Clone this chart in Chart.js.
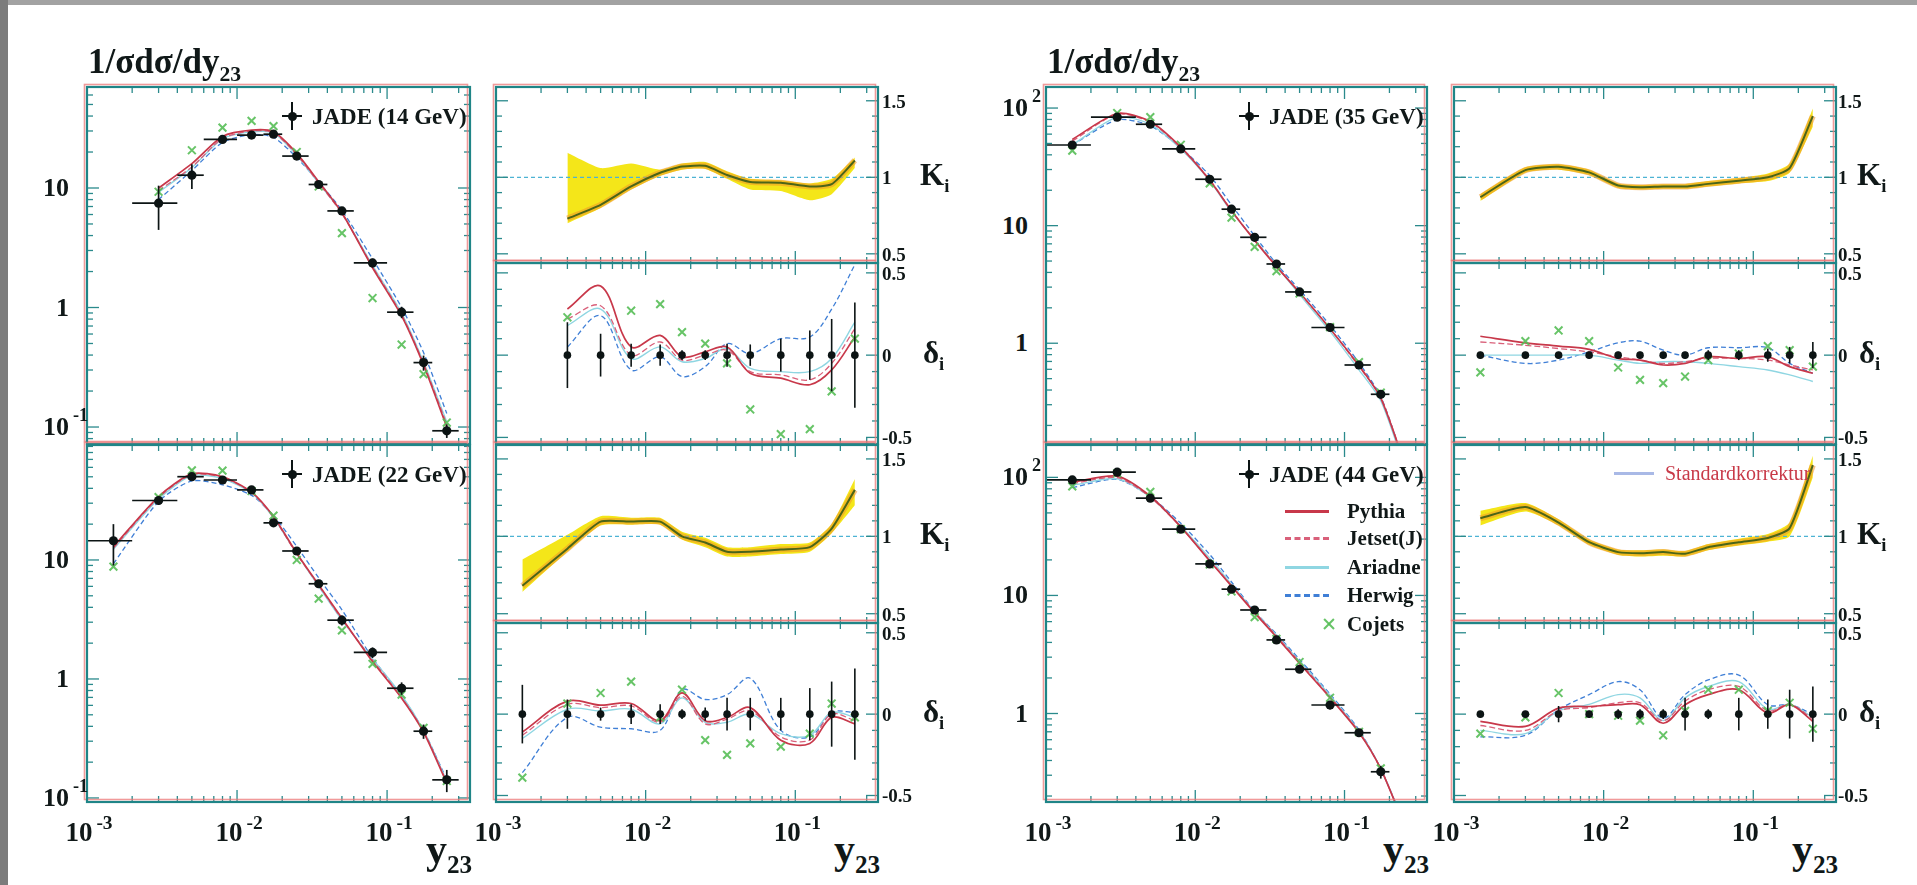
<!DOCTYPE html>
<html>
<head>
<meta charset="utf-8">
<title>JADE y23 distributions</title>
<script src="https://cdn.jsdelivr.net/npm/chart.js@4.4.1/dist/chart.umd.min.js"></script>
<style>
html,body{margin:0;padding:0;background:#fff;}
#page{position:relative;width:1917px;height:885px;overflow:hidden;background:#fff;font-family:"Liberation Serif","Times New Roman","DejaVu Serif",serif;color:#101818;}
#page canvas{position:absolute;}
.t{position:absolute;white-space:nowrap;line-height:1;font-weight:bold;}
.yl{font-size:26px;transform:translate(-100%,-50%);}
.yl .ex{position:absolute;left:100%;top:-0.45em;font-size:0.7em;margin-left:4px;}
.xl{font-size:27px;transform:translate(-50%,-50%);}
.xl .ex{font-size:0.72em;position:relative;top:-0.6em;margin-left:4px;}
.rl{font-size:19px;transform:translateY(-50%);}
.ttl{font-weight:bold;font-size:35px;}
.ttl sub{font-size:0.62em;vertical-align:-0.35em;}
.ax{font-size:42px;}
.ax sub{font-size:0.6em;vertical-align:-0.4em;}
.lg{font-size:23px;transform:translateY(-50%);}
.lg2{font-size:21px;transform:translateY(-50%);}
.sk{font-size:20px;font-weight:normal;color:#c83a48;transform:translateY(-50%);}
.box{position:absolute;}
</style>
</head>
<body>
<div id="page"></div>
<script>
// ---------------- data ----------------
const y23   = [0.0015, 0.003, 0.005, 0.008, 0.0125, 0.0175, 0.025, 0.035, 0.05, 0.08, 0.125, 0.175, 0.25];
const binLo = [0.001, 0.002, 0.004, 0.006, 0.01, 0.015, 0.02, 0.03, 0.04, 0.06, 0.1, 0.15, 0.2];
const binHi = [0.002, 0.004, 0.006, 0.01, 0.015, 0.02, 0.03, 0.04, 0.06, 0.1, 0.15, 0.2, 0.3];

const xTicks = [0.001, 0.01, 0.1];
const xTickText = ['10^-3', '10^-2', '10^-1'];
const yTicks14 = [0.1, 1, 10];   const yTickText14 = ['10^-1', '1', '10'];
const yTicks22 = [0.1, 1, 10];   const yTickText22 = ['10^-1', '1', '10'];
const yTicks35 = [1, 10, 100];   const yTickText35 = ['1', '10', '10^2'];
const yTicks44 = [1, 10, 100];   const yTickText44 = ['1', '10', '10^2'];
const kTicks = [0.5, 1, 1.5];    const kTickText = ['0.5', '1', '1.5'];
const dTicks = [-0.5, 0, 0.5];   const dTickText = ['-0.5', '0', '0.5'];
const kRef = 1;

// 14 GeV
const jade14    = [null, 7.46, 12.8, 25.5, 27.7, 28.2, 18.5, 10.7, 6.43, 2.36, 0.914, 0.346, 0.093];
const jade14Err = [null, 3.0, 3.0, 1.2, 1.2, 1.2, 0.8, 0.6, 0.4, 0.2, 0.1, 0.05, 0.012];
const pythia14  = [null, 10.0, 16.0, 27.0, 30.5, 29.5, 19.5, 11.3, 6.2, 2.15, 0.85, 0.33, 0.10];
const jetset14  = [null, 9.5, 15.0, 26.0, 30.0, 29.0, 19.0, 11.0, 6.1, 2.2, 0.87, 0.34, 0.105];
const ariadne14 = [null, 9.2, 14.8, 25.8, 29.5, 28.8, 18.8, 11.0, 6.2, 2.25, 0.9, 0.35, 0.11];
const herwig14  = [null, 8.0, 14.0, 24.0, 28.0, 26.5, 18.0, 11.2, 6.5, 2.55, 1.0, 0.42, 0.13];
const cojets14  = [null, 9.3, 20.7, 32.0, 36.4, 32.9, 20.0, 10.3, 4.19, 1.2, 0.49, 0.277, 0.109];
const k14   = [null, 0.73, 0.82, 0.94, 1.03, 1.07, 1.075, 1.015, 0.97, 0.965, 0.94, 0.955, 1.11];
const k14Hi = [null, 1.16, 1.06, 1.09, 1.05, 1.09, 1.10, 1.04, 0.99, 0.98, 0.96, 0.99, 1.13];
const k14Lo = [null, 0.70, 0.80, 0.92, 1.01, 1.05, 1.055, 0.99, 0.92, 0.91, 0.85, 0.89, 1.06];
const d14Jade    = [null, 0, 0, 0, 0, 0, 0, 0, 0, 0, 0, 0, 0];
const d14Err     = [null, 0.2, 0.13, 0.07, 0.065, 0.03, 0.03, 0.07, 0.065, 0.1, 0.15, 0.22, 0.32];
const d14Pythia  = [null, 0.28, 0.42, 0.05, 0.12, -0.01, 0.02, 0.05, -0.11, -0.14, -0.18, -0.09, 0.11];
const d14Jetset  = [null, 0.22, 0.30, 0.0, 0.08, -0.03, 0.0, 0.03, -0.10, -0.12, -0.15, -0.05, 0.16];
const d14Ariadne = [null, 0.18, 0.28, -0.02, 0.05, -0.04, -0.02, 0.04, -0.08, -0.10, -0.10, -0.02, 0.20];
const d14Herwig  = [null, 0.05, 0.24, -0.09, -0.01, -0.13, -0.07, 0.07, 0.01, 0.10, 0.11, 0.28, 0.55];
const d14Cojets  = [null, 0.23, null, 0.27, 0.31, 0.14, 0.07, -0.05, -0.33, -0.48, -0.45, -0.22, 0.10];

// 22 GeV
const jade22    = [14.5, 31.6, 50.1, 47.0, 38.8, 20.5, 11.9, 6.31, 3.12, 1.67, 0.836, 0.364, 0.142];
const jade22Err = [5.5, 2.5, 2.0, 2.0, 1.5, 1.0, 0.6, 0.5, 0.3, 0.17, 0.1, 0.05, 0.03];
const pythia22  = [12.9, 34.1, 52.9, 50.1, 37.2, 23.2, 11.4, 6.18, 3.24, 1.40, 0.69, 0.357, 0.133];
const jetset22  = [12.6, 33.5, 52.1, 49.4, 36.9, 22.8, 11.2, 6.12, 3.18, 1.44, 0.70, 0.364, 0.136];
const ariadne22 = [12.3, 32.5, 51.1, 48.4, 36.5, 22.6, 11.3, 6.0, 3.12, 1.47, 0.73, 0.368, 0.139];
const herwig22  = [9.3, 31.0, 46.1, 42.8, 34.9, 23.6, 13.0, 7.07, 3.81, 1.50, 0.72, 0.368, 0.143];
const cojets22  = [8.8, 33.7, 56.6, 56.4, 38.0, 23.6, 10.0, 4.73, 2.56, 1.34, 0.74, 0.388, 0.139];
const k22   = [0.68, 0.92, 1.095, 1.095, 1.095, 1.0, 0.96, 0.9, 0.9, 0.915, 0.93, 1.05, 1.30];
const k22Hi = [0.85, 1.01, 1.13, 1.12, 1.12, 1.03, 0.99, 0.93, 0.93, 0.95, 0.96, 1.08, 1.37];
const k22Lo = [0.64, 0.90, 1.07, 1.075, 1.075, 0.98, 0.93, 0.87, 0.87, 0.885, 0.90, 1.02, 1.20];
const d22Jade    = [0, 0, 0, 0, 0, 0, 0, 0, 0, 0, 0, 0, 0];
const d22Err     = [0.18, 0.09, 0.04, 0.06, 0.06, 0.03, 0.04, 0.1, 0.1, 0.1, 0.16, 0.2, 0.28];
const d22Pythia  = [-0.11, 0.08, 0.055, 0.065, -0.04, 0.13, -0.04, -0.02, 0.04, -0.16, -0.18, -0.02, -0.06];
const d22Jetset  = [-0.13, 0.06, 0.04, 0.05, -0.05, 0.11, -0.06, -0.03, 0.02, -0.14, -0.16, 0.0, -0.04];
const d22Ariadne = [-0.15, 0.03, 0.02, 0.03, -0.06, 0.10, -0.05, -0.05, 0.0, -0.12, -0.13, 0.01, -0.02];
const d22Herwig  = [-0.36, -0.02, -0.08, -0.09, -0.10, 0.15, 0.09, 0.12, 0.22, -0.10, -0.14, 0.01, 0.01];
const d22Cojets  = [-0.39, 0.065, 0.13, 0.20, -0.02, 0.15, -0.16, -0.25, -0.18, -0.20, -0.12, 0.065, -0.02];

// 35 GeV
const jade35    = [48.5, 83.6, 72.8, 44.9, 24.8, 13.8, 7.96, 4.72, 2.73, 1.36, 0.653, 0.368, 0.11];
const jade35Err = [2.0, 3.0, 2.5, 1.5, 0.8, 0.5, 0.3, 0.2, 0.12, 0.06, 0.03, 0.02, 0.01];
const pythia35  = [54.1, 89.9, 76.8, 46.5, 24.3, 13.4, 7.48, 4.48, 2.70, 1.33, 0.646, 0.342, 0.098];
const jetset35  = [52.4, 88.6, 75.7, 45.8, 24.6, 13.4, 7.56, 4.53, 2.68, 1.33, 0.633, 0.346, 0.10];
const ariadne35 = [48.5, 83.6, 72.8, 44.9, 24.1, 13.1, 7.64, 4.53, 2.59, 1.26, 0.594, 0.324, 0.092];
const herwig35  = [48.5, 79.4, 70.6, 45.8, 26.7, 15.0, 8.2, 4.72, 2.85, 1.42, 0.682, 0.35, 0.098];
const cojets35  = [43.4, 90.7, 83.7, 48.7, 22.9, 11.7, 6.6, 4.1, 2.65, 1.37, 0.69, 0.38, 0.102];
const k35   = [0.87, 1.047, 1.069, 1.032, 0.946, 0.935, 0.94, 0.94, 0.957, 0.978, 1.0, 1.06, 1.40];
const k35Hi = [0.89, 1.065, 1.085, 1.05, 0.96, 0.95, 0.955, 0.955, 0.975, 0.995, 1.025, 1.09, 1.45];
const k35Lo = [0.845, 1.03, 1.05, 1.015, 0.93, 0.92, 0.925, 0.925, 0.94, 0.96, 0.975, 1.03, 1.33];
const d35Jade    = [0, 0, 0, 0, 0, 0, 0, 0, 0, 0, 0, 0, 0];
const d35Err     = [0.02, 0.02, 0.02, 0.02, 0.02, 0.02, 0.02, 0.02, 0.03, 0.03, 0.04, 0.05, 0.08];
const d35Pythia  = [0.115, 0.075, 0.055, 0.035, -0.02, -0.03, -0.06, -0.05, -0.01, -0.02, -0.01, -0.07, -0.11];
const d35Jetset  = [0.08, 0.06, 0.04, 0.02, -0.01, -0.03, -0.05, -0.04, -0.02, -0.02, -0.03, -0.06, -0.09];
const d35Ariadne = [0.0, 0.0, 0.0, 0.0, -0.03, -0.05, -0.04, -0.04, -0.05, -0.07, -0.09, -0.12, -0.16];
const d35Herwig  = [0.0, -0.05, -0.03, 0.02, 0.075, 0.085, 0.03, 0.0, 0.045, 0.045, 0.045, -0.05, -0.11];
const d35Cojets  = [-0.105, 0.085, 0.15, 0.085, -0.075, -0.15, -0.17, -0.13, -0.03, 0.01, 0.055, 0.03, -0.07];

// 44 GeV
const jade44    = [95.2, 110.6, 66.7, 36.4, 18.5, 11.3, 7.53, 4.2, 2.37, 1.18, 0.687, 0.321, 0.12];
const jade44Err = [3.0, 4.0, 3.0, 1.5, 0.8, 0.5, 0.35, 0.3, 0.12, 0.1, 0.05, 0.04, 0.02];
const pythia44  = [90.9, 102.3, 69.2, 38.1, 19.6, 12.0, 7.11, 4.44, 2.65, 1.36, 0.691, 0.34, 0.115];
const jetset44  = [88.5, 99.5, 68.0, 37.9, 19.8, 12.1, 7.23, 4.54, 2.73, 1.38, 0.70, 0.34, 0.116];
const ariadne44 = [85.7, 97.3, 68.0, 38.6, 20.7, 12.4, 7.23, 4.62, 2.77, 1.42, 0.708, 0.34, 0.118];
const herwig44  = [81.9, 96.2, 68.5, 40.8, 22.2, 13.0, 7.34, 4.70, 2.87, 1.46, 0.727, 0.34, 0.12];
const cojets44  = [83.8, 108.4, 75.4, 36.4, 18.3, 10.8, 6.55, 4.28, 2.73, 1.36, 0.70, 0.343, 0.109];
const k44   = [1.117, 1.189, 1.089, 0.962, 0.898, 0.891, 0.898, 0.887, 0.93, 0.962, 0.989, 1.053, 1.46];
const k44Hi = [1.165, 1.215, 1.11, 0.98, 0.915, 0.91, 0.915, 0.905, 0.95, 0.985, 1.015, 1.09, 1.52];
const k44Lo = [1.07, 1.16, 1.07, 0.945, 0.88, 0.87, 0.875, 0.87, 0.91, 0.94, 0.965, 1.0, 1.38];
const d44Jade    = [0, 0, 0, 0, 0, 0, 0, 0, 0, 0, 0, 0, 0];
const d44Err     = [0.02, 0.02, 0.05, 0.02, 0.03, 0.03, 0.03, 0.1, 0.03, 0.1, 0.09, 0.15, 0.17];
const d44Pythia  = [-0.045, -0.075, 0.037, 0.047, 0.058, 0.058, -0.056, 0.058, 0.12, 0.15, 0.006, 0.058, -0.045];
const d44Jetset  = [-0.07, -0.1, 0.02, 0.04, 0.07, 0.07, -0.04, 0.08, 0.15, 0.17, 0.02, 0.06, -0.03];
const d44Ariadne = [-0.1, -0.12, 0.02, 0.06, 0.12, 0.1, -0.04, 0.1, 0.17, 0.2, 0.03, 0.06, -0.02];
const d44Herwig  = [-0.14, -0.13, 0.027, 0.12, 0.2, 0.15, -0.025, 0.12, 0.21, 0.24, 0.058, 0.058, 0.0];
const d44Cojets  = [-0.12, -0.02, 0.13, 0.0, -0.01, -0.04, -0.13, 0.02, 0.15, 0.15, 0.02, 0.07, -0.09];

const legendNames = ['Pythia', 'Jetset(J)', 'Ariadne', 'Herwig', 'Cojets'];

// ---------------- drawing ----------------
const XMIN = 0.001, XMAX = 0.357;
const P = 14;
const page = document.getElementById('page');

const COL = {
  pythia: '#c8384a', jetset: '#d9607a', ariadne: '#8fd6e2', herwig: '#3f7fd6',
  cojets: 'rgba(86,190,86,0.9)', jade: '#0c1414', frame: '#1f8587'
};

function pts(ys) {
  const out = [];
  ys.forEach((v, i) => { if (v !== null && v !== undefined) out.push({ x: y23[i], y: v }); });
  return out;
}
function lineDS(ys, color, dash, width, tension) {
  return { data: pts(ys), showLine: true, borderColor: color, borderDash: dash, borderWidth: width,
           pointRadius: 0, pointHoverRadius: 0, tension: tension, fill: false, clip: 0 };
}
function jadeDS(ys, r) {
  return { data: pts(ys), showLine: false, pointRadius: r, pointHoverRadius: r,
           pointBackgroundColor: COL.jade, pointBorderColor: COL.jade, pointBorderWidth: 0, clip: 0 };
}
function cojDS(ys) {
  return { data: pts(ys), showLine: false, pointStyle: 'crossRot', pointRadius: 5.5, pointHoverRadius: 5.5,
           pointBorderColor: COL.cojets, pointBorderWidth: 2, clip: 0 };
}

const framePlugin = {
  id: 'frame',
  afterDraw(chart) {
    const { ctx, chartArea: a, scales } = chart;
    const xs = scales.x, ys = scales.y;
    ctx.save();
    ctx.strokeStyle = '#2a8a8c';
    ctx.lineWidth = 1.3;
    const seg = (x1, y1, x2, y2) => { ctx.beginPath(); ctx.moveTo(x1, y1); ctx.lineTo(x2, y2); ctx.stroke(); };
    for (let e = -3; e <= 0; e++) {
      for (let m = 1; m <= 9; m++) {
        const v = m * Math.pow(10, e);
        if (v < xs.min * 0.999 || v > xs.max) continue;
        const px = xs.getPixelForValue(v);
        const L = m === 1 ? 12 : 6;
        seg(px, a.bottom, px, a.bottom - L);
        seg(px, a.top, px, a.top + L);
      }
    }
    if (ys.type === 'logarithmic') {
      for (let e = -2; e <= 3; e++) for (let m = 1; m <= 9; m++) {
        const v = m * Math.pow(10, e);
        if (v < ys.min || v > ys.max) continue;
        const py = ys.getPixelForValue(v);
        const L = m === 1 ? 12 : 6;
        seg(a.left, py, a.left + L, py);
        seg(a.right, py, a.right - L, py);
      }
    } else {
      const start = Math.ceil(ys.min * 10 - 1e-6), end = Math.floor(ys.max * 10 + 1e-6);
      for (let k = start; k <= end; k++) {
        const py = ys.getPixelForValue(k / 10);
        const L = (k % 5 === 0) ? 12 : 6;
        seg(a.left, py, a.left + L, py);
        seg(a.right, py, a.right - L, py);
      }
    }
    ctx.lineWidth = 1.6;
    ctx.strokeStyle = 'rgba(236,120,120,0.75)';
    ctx.strokeRect(a.left - 2.5, a.top - 2.5, a.width, a.height);
    ctx.lineWidth = 2.2;
    ctx.strokeStyle = COL.frame;
    ctx.strokeRect(a.left, a.top, a.width, a.height);
    ctx.restore();
  }
};

function errPlugin(sets) {
  return {
    id: 'errbars',
    afterDatasetsDraw(chart) {
      const { ctx, chartArea: a, scales: { x, y } } = chart;
      ctx.save();
      ctx.beginPath(); ctx.rect(a.left, a.top, a.width, a.height); ctx.clip();
      sets.forEach(s => {
        ctx.strokeStyle = s.color; ctx.lineWidth = s.width;
        s.vals.forEach((v, i) => {
          if (v === null || v === undefined) return;
          const px = x.getPixelForValue(y23[i]);
          const py = y.getPixelForValue(v);
          const e = s.err[i];
          if (e) {
            ctx.beginPath();
            ctx.moveTo(px, y.getPixelForValue(v + e));
            ctx.lineTo(px, y.getPixelForValue(v - e));
            ctx.stroke();
          }
          if (s.bins) {
            ctx.beginPath();
            ctx.moveTo(x.getPixelForValue(binLo[i]), py);
            ctx.lineTo(x.getPixelForValue(binHi[i]), py);
            ctx.stroke();
          }
        });
      });
      ctx.restore();
    }
  };
}

function buildChart(p, datasets, yType, ymin, ymax, extra) {
  const c = document.createElement('canvas');
  c.width = p.w + 2 * P; c.height = p.h + 2 * P;
  c.style.left = (p.x - P) + 'px'; c.style.top = (p.y - P) + 'px';
  c.style.width = c.width + 'px'; c.style.height = c.height + 'px';
  page.appendChild(c);
  return new Chart(c, {
    type: 'scatter',
    data: { datasets },
    options: {
      responsive: false, animation: false, events: [],
      layout: { padding: P },
      plugins: { legend: { display: false }, tooltip: { enabled: false } },
      scales: {
        x: { type: 'logarithmic', min: XMIN, max: XMAX, display: false },
        y: { type: yType, min: ymin, max: ymax, display: false }
      }
    },
    plugins: [framePlugin].concat(extra || [])
  });
}

function mk(html, left, top, cls, css) {
  const d = document.createElement('div');
  d.className = 't ' + cls;
  d.innerHTML = html;
  d.style.left = left + 'px';
  d.style.top = top + 'px';
  if (css) Object.assign(d.style, css);
  page.appendChild(d);
  return d;
}
function box(left, top, w, h, css) {
  const d = document.createElement('div');
  d.className = 'box';
  Object.assign(d.style, { left: left + 'px', top: top + 'px', width: w + 'px', height: h + 'px' }, css || {});
  page.appendChild(d);
  return d;
}
function powHtml(s) {
  const parts = s.split('^');
  return parts.length > 1 ? parts[0] + '<span class="ex">' + parts[1] + '</span>' : s;
}
const ax = (ch, p, v) => p.x - P + ch.scales.x.getPixelForValue(v);
const ay = (ch, p, v) => p.y - P + ch.scales.y.getPixelForValue(v);

function jadeMarker(cx, cy) {
  box(cx - 1, cy - 14, 2.2, 28, { background: COL.jade });
  box(cx - 10, cy - 1, 20, 2.2, { background: COL.jade });
  box(cx - 4.5, cy - 4.5, 9, 9, { background: COL.jade, borderRadius: '50%' });
}

function xLabels(ch, p) {
  xTicks.forEach((v, i) => mk(powHtml(xTickText[i]), ax(ch, p, v) + 2, p.y + p.h + 30, 'xl'));
  const d = mk('y<sub>23</sub>', 0, p.y + p.h + 26, 'ax');
  d.style.left = (p.x + p.w + 2 - d.offsetWidth) + 'px';
}

// ----- panel layout (pixel frames) -----
const blocks = [
  { mainX: 87, mainW: 383, ratX: 496, ratW: 382, titleX: 88, kLabX: 920, dLabX: 923, labOff: 4 },
  { mainX: 1046, mainW: 381, ratX: 1454, ratW: 382, titleX: 1047, kLabX: 1857, dLabX: 1859, labOff: 2 }
];
const rows = [
  { mainY: 87, mainH: 357, kY: 87, kH: 176, dY: 263, dH: 181, last: false },
  { mainY: 445, mainH: 357, kY: 445, kH: 178, dY: 623, dH: 179, last: true }
];

const sets = [
  { b: 0, r: 0, e: '14', ymin: 0.0721, ymax: 70, yt: yTicks14, ytt: yTickText14,
    jade: jade14, err: jade14Err, mc: [pythia14, jetset14, ariadne14, herwig14], coj: cojets14,
    k: k14, kh: k14Hi, kl: k14Lo, dj: d14Jade, de: d14Err, dmc: [d14Pythia, d14Jetset, d14Ariadne, d14Herwig], dc: d14Cojets },
  { b: 0, r: 1, e: '22', ymin: 0.0925, ymax: 92.5, yt: yTicks22, ytt: yTickText22,
    jade: jade22, err: jade22Err, mc: [pythia22, jetset22, ariadne22, herwig22], coj: cojets22,
    k: k22, kh: k22Hi, kl: k22Lo, dj: d22Jade, de: d22Err, dmc: [d22Pythia, d22Jetset, d22Ariadne, d22Herwig], dc: d22Cojets },
  { b: 1, r: 0, e: '35', ymin: 0.139, ymax: 151, yt: yTicks35, ytt: yTickText35,
    jade: jade35, err: jade35Err, mc: [pythia35, jetset35, ariadne35, herwig35], coj: cojets35,
    k: k35, kh: k35Hi, kl: k35Lo, dj: d35Jade, de: d35Err, dmc: [d35Pythia, d35Jetset, d35Ariadne, d35Herwig], dc: d35Cojets },
  { b: 1, r: 1, e: '44', ymin: 0.178, ymax: 188, yt: yTicks44, ytt: yTickText44,
    jade: jade44, err: jade44Err, mc: [pythia44, jetset44, ariadne44, herwig44], coj: cojets44,
    k: k44, kh: k44Hi, kl: k44Lo, dj: d44Jade, de: d44Err, dmc: [d44Pythia, d44Jetset, d44Ariadne, d44Herwig], dc: d44Cojets }
];

const mcStyle = [
  { c: COL.pythia, dash: [], w: 1.7 },
  { c: COL.jetset, dash: [6, 3], w: 1.3 },
  { c: COL.ariadne, dash: [], w: 1.4 },
  { c: COL.herwig, dash: [5, 3], w: 1.3 }
];

// gray scan border
box(0, 0, 1917, 5, { background: '#a2a2a2' });
box(0, 0, 8, 885, { background: '#7c7c7c' });

sets.forEach(s => {
  const B = blocks[s.b], R = rows[s.r];

  // ---- main distribution ----
  const pm = { x: B.mainX, y: R.mainY, w: B.mainW, h: R.mainH };
  const mainDs = [jadeDS(s.jade, 4.6), cojDS(s.coj)].concat(
    s.mc.map((arr, i) => lineDS(arr, mcStyle[i].c, mcStyle[i].dash, mcStyle[i].w, 0.25)));
  const cm = buildChart(pm, mainDs, 'logarithmic', s.ymin, s.ymax,
    [errPlugin([{ vals: s.jade, err: s.err, color: COL.jade, width: 1.7, bins: true }])]);
  s.yt.forEach((v, i) => {
    const parts = s.ytt[i].split('^');
    const html = parts.length > 1 ? '<span>' + parts[0] + '</span><span class="ex">' + parts[1] + '</span>' : parts[0];
    mk(html, pm.x - 18, ay(cm, pm, v), 'yl');
  });
  if (R.last) xLabels(cm, pm);
  if (s.r === 0) mk('1/σdσ/dy<sub>23</sub>', B.titleX, 44, 'ttl');
  // JADE legend
  const lgx = pm.x + pm.w - 178, lgy = pm.y + 29;
  jadeMarker(lgx, lgy);
  mk('JADE (' + s.e + ' GeV)', lgx + 20, lgy, 'lg');

  // ---- K panel ----
  const pk = { x: B.ratX, y: R.kY, w: B.ratW, h: R.kH };
  const kDs = [
    lineDS(s.k, '#4a6418', [], 2, 0.2),
    lineDS(s.k, 'rgba(238,150,40,0.55)', [], 6, 0.2),
    { data: [{ x: XMIN, y: kRef }, { x: XMAX, y: kRef }], showLine: true, borderColor: '#4db3d4',
      borderDash: [4, 3], borderWidth: 1.3, pointRadius: 0, fill: false, clip: 0 },
    { data: pts(s.kh), showLine: true, borderColor: 'rgba(0,0,0,0)', borderWidth: 1, pointRadius: 0,
      tension: 0.2, fill: '+1', backgroundColor: '#f4e619', clip: 0 },
    { data: pts(s.kl), showLine: true, borderColor: 'rgba(0,0,0,0)', borderWidth: 1, pointRadius: 0,
      tension: 0.2, fill: false, clip: 0 }
  ];
  const ck = buildChart(pk, kDs, 'linear', 0.44, 1.59);
  kTicks.forEach((v, i) => mk(kTickText[i], pk.x + pk.w + B.labOff, ay(ck, pk, v), 'rl'));
  mk('K<sub style="font-size:0.6em">i</sub>', B.kLabX, ay(ck, pk, 1), 'rl', { fontSize: '31px' });

  // ---- delta panel ----
  const pd = { x: B.ratX, y: R.dY, w: B.ratW, h: R.dH };
  const dDs = [jadeDS(s.dj, 3.8), cojDS(s.dc)].concat(
    s.dmc.map((arr, i) => lineDS(arr, mcStyle[i].c, mcStyle[i].dash, mcStyle[i].w, 0.35)));
  const cd = buildChart(pd, dDs, 'linear', -0.54, 0.56,
    [errPlugin([{ vals: s.dj, err: s.de, color: COL.jade, width: 1.6, bins: false }])]);
  dTicks.forEach((v, i) => mk(dTickText[i], pd.x + pd.w + B.labOff, ay(cd, pd, v), 'rl'));
  mk('δ<sub style="font-size:0.6em">i</sub>', B.dLabX, ay(cd, pd, 0), 'rl', { fontSize: '31px' });
  if (R.last) xLabels(cd, pd);

  // ---- legends in the 44 GeV panels ----
  if (s.e === '44') {
    const lx = 1285, ly = [511, 538, 567, 595, 624];
    mcStyle.forEach((st, i) => {
      const style = st.dash.length ? 'dashed' : 'solid';
      box(lx, ly[i] - 1.5, 44, 0, { borderTop: '3px ' + style + ' ' + st.c });
    });
    box(1329 - 7, ly[4] - 1, 14, 2.2, { background: COL.cojets, transform: 'rotate(45deg)' });
    box(1329 - 7, ly[4] - 1, 14, 2.2, { background: COL.cojets, transform: 'rotate(-45deg)' });
    legendNames.forEach((n, i) => mk(n, 1347, ly[i], 'lg2'));
    box(1614, 472, 40, 0, { borderTop: '3px solid #a9b9e6' });
    mk('Standardkorrektur', 1665, 473, 'sk');
  }
});
</script>
</body>
</html>
